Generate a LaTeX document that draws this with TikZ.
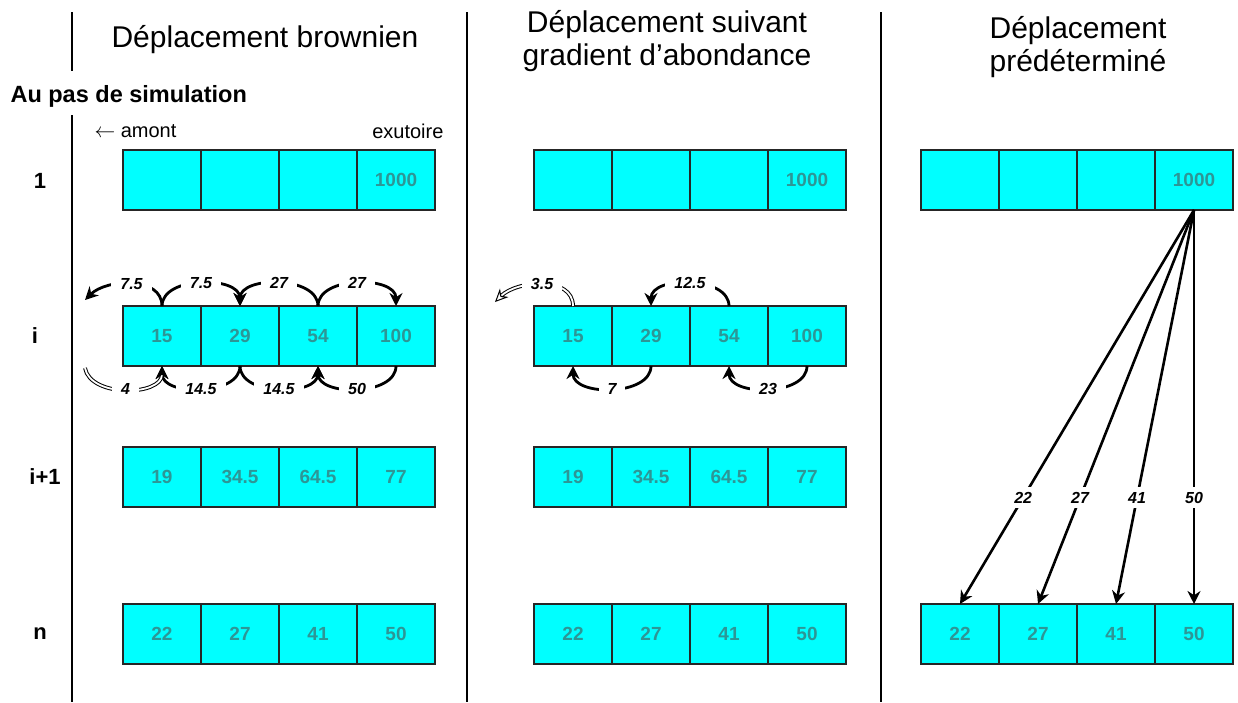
\documentclass[tikz,border=0pt]{standalone}
\usepackage{fontspec}
\setmainfont{Liberation Sans}
\usetikzlibrary{arrows.meta,positioning}
\definecolor{cellfill}{RGB}{0,255,255}
\definecolor{celltext}{RGB}{45,150,150}

\begin{document}
\begin{tikzpicture}[x=1pt,y=-1pt,
    cell/.style={draw=black!85,line width=1.3pt,fill=cellfill,minimum width=78pt,
      minimum height=60pt,inner sep=0pt,outer sep=0pt,text=celltext,
      font=\fontsize{19}{21}\selectfont\bfseries},
    title/.style={align=center,font=\fontsize{30}{33}\selectfont},
    rowlab/.style={font=\fontsize{22}{24}\selectfont\bfseries},
    flow/.style={line width=2.8pt,-{Stealth[length=13pt,width=13pt]}},
    hollow/.style={double,double distance=1.8pt,line width=1pt,
      -{Stealth[open,length=13pt,width=12pt,line width=1pt]}},
    flux/.style={fill=white,inner xsep=9pt,inner ysep=2pt,
      font=\fontsize{16}{18}\selectfont\bfseries\itshape},
    divider/.style={line width=1.4pt}]
  \useasboundingbox (0,0) rectangle (1238,702);

  % titres et colonnes
  \node[title] (tb) at (265,40) {Déplacement brownien};
  \node[title] (tg) at (667,41) {Déplacement suivant\\gradient d’abondance};
  \node[title] (tp) at (1078,47) {Déplacement\\prédéterminé};
  \node[anchor=west,font=\fontsize{23.5}{26}\selectfont\bfseries] (pas) at (7,96) {Au pas de simulation};
  \draw[divider] (72,12) -- (72,71);
  \draw[divider] (72,115) -- (72,702);
  \draw[divider] (467,12) -- (467,702);
  \draw[divider] (881,12) -- (881,702);

  % lignes de temps
  \node[rowlab] (l1) at (40,181) {1};
  \node[rowlab] (li) at (35,336) {i};
  \node[rowlab] (lj) at (45,477) {i+1};
  \node[rowlab] (ln) at (40,634) {n};
  \node[anchor=west,font=\fontsize{20}{24}\selectfont] (amont) at (91,131) {$\leftarrow$ amont};
  \node[anchor=east,font=\fontsize{20}{24}\selectfont] (exu) at (447,131) {exutoire};

  % cellules
  \foreach \pan/\x in {b/123,g/534,p/921}{
    \foreach \k/\v in {1/{},2/{},3/{},4/1000}
      \node[cell] (\pan-r1-\k) at (\x+78*\k-39,180) {\v};
    \foreach \k/\v in {1/22,2/27,3/41,4/50}
      \node[cell] (\pan-rn-\k) at (\x+78*\k-39,634) {\v};
  }
  \foreach \pan/\x in {b/123,g/534}{
    \foreach \k/\v in {1/15,2/29,3/54,4/100}
      \node[cell] (\pan-ri-\k) at (\x+78*\k-39,336) {\v};
    \foreach \k/\v in {1/19,2/34.5,3/64.5,4/77}
      \node[cell] (\pan-rj-\k) at (\x+78*\k-39,477) {\v};
  }

  % brownien
  \coordinate (b-outT) at (85,300);
  \coordinate (b-outB) at (85,368);
  \draw[flow] (b-ri-1.north) to[out=90,in=45] node[flux]{7.5} (b-outT);
  \draw[flow] (b-ri-1.north) to[out=90,in=90] node[flux]{7.5} (b-ri-2.north);
  \draw[flow] (b-ri-3.north) to[out=90,in=90] node[flux]{27} (b-ri-2.north);
  \draw[flow] (b-ri-3.north) to[out=90,in=90] node[flux]{27} (b-ri-4.north);
  \draw[flow] (b-ri-2.south) to[out=-90,in=-90] node[flux]{14.5} (b-ri-1.south);
  \draw[hollow] (b-outB) to[out=-80,in=-90] node[flux]{4} (b-ri-1.south);
  \draw[flow] (b-ri-2.south) to[out=-90,in=-90] node[flux]{14.5} (b-ri-3.south);
  \draw[flow] (b-ri-4.south) to[out=-90,in=-90] node[flux]{50} (b-ri-3.south);

  % gradient
  \coordinate (g-outT) at (495,302);
  \draw[hollow] (g-ri-1.north) to[out=90,in=45] node[flux]{3.5} (g-outT);
  \draw[flow] (g-ri-3.north) to[out=90,in=90] node[flux]{12.5} (g-ri-2.north);
  \draw[flow] (g-ri-2.south) to[out=-90,in=-90] node[flux]{7} (g-ri-1.south);
  \draw[flow] (g-ri-4.south) to[out=-90,in=-90] node[flux]{23} (g-ri-3.south);

  % predetermine
  \foreach \k/\v in {1/22,2/27,3/41,4/50}
    \draw[flow,line width=2.6pt] (p-r1-4.south) -- node[flux,pos=0.73,inner xsep=4pt,inner ysep=5pt]{\v} (p-rn-\k.north);
\end{tikzpicture}
\end{document}
